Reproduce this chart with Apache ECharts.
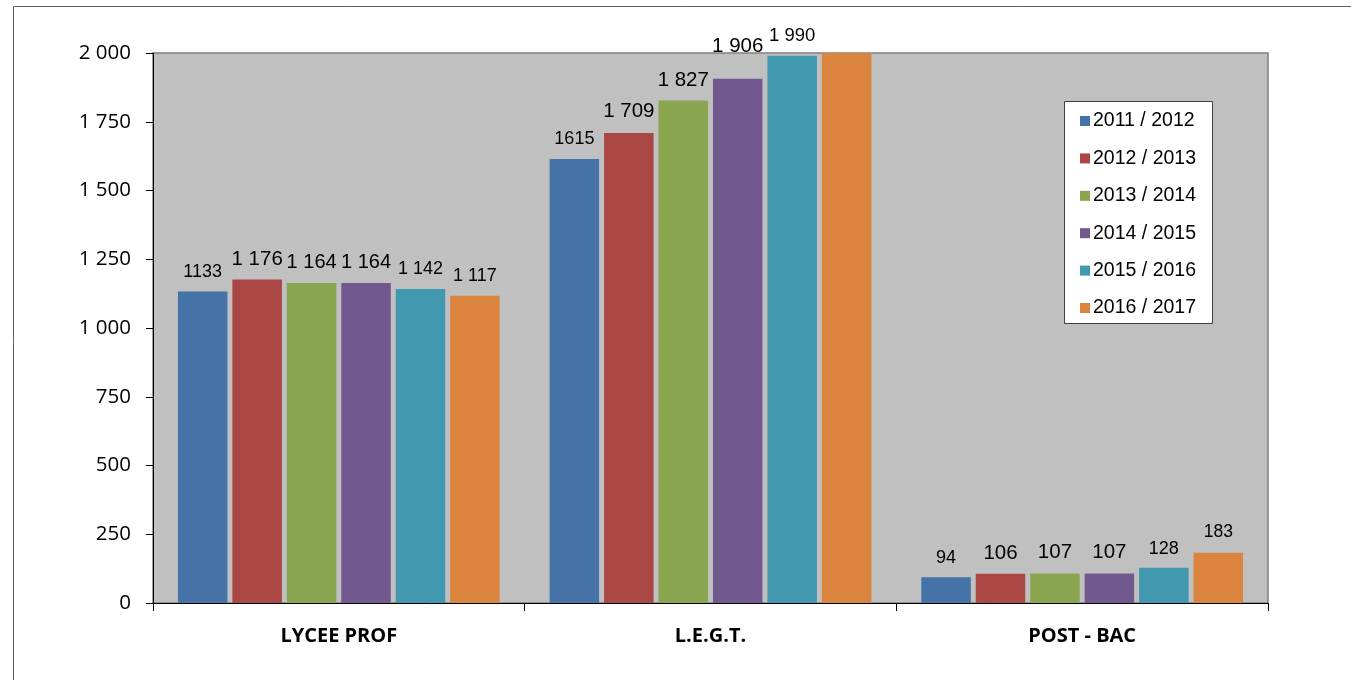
<!DOCTYPE html>
<html>
<head>
<meta charset="utf-8">
<script src="https://cdn.jsdelivr.net/npm/echarts@6/dist/echarts.min.js"></script>
<style>
html,body{margin:0;padding:0;background:#fff;}
#c{width:1351px;height:680px;}
</style>
</head>
<body>
<div id="c"></div>
<script>
// ---- data ----
var categories = ['LYCEE PROF', 'L.E.G.T.', 'POST - BAC'];
var seriesNames = ['2011 / 2012', '2012 / 2013', '2013 / 2014', '2014 / 2015', '2015 / 2016', '2016 / 2017'];
var v2011 = [1133, 1615, 94];
var v2012 = [1176, 1709, 106];
var v2013 = [1164, 1827, 107];
var v2014 = [1164, 1906, 107];
var v2015 = [1142, 1990, 128];
var v2016 = [1117, 2040, 183];
var t2011 = ['1133', '1615', '94'];
var t2012 = ['1 176', '1 709', '106'];
var t2013 = ['1 164', '1 827', '107'];
var t2014 = ['1 164', '1 906', '107'];
var t2015 = ['1 142', '1 990', '128'];
var t2016 = ['1 117', '', '183'];
var yTickLabels = ['0', '250', '500', '750', '1 000', '1 250', '1 500', '1 750', '2 000'];

// ---- styling ----
var colors = ['#4572A7', '#AA4643', '#89A54E', '#71588F', '#4198AF', '#DB843D'];
var labelSizes = [
  [18, 18, 18],
  [20.5, 20.5, 20.5],
  [20, 20.5, 20.5],
  [20, 20.5, 20.5],
  [18, 18.5, 18],
  [18, 18, 17.5]
];
var labelCenterGap = [
  [22, 22.7, 21.7],
  [22.5, 23.8, 23.5],
  [23.3, 22.9, 23.5],
  [23.3, 35.5, 23.5],
  [22.5, 22, 21.7],
  [22.3, 22, 22.7]
];

var values = [v2011, v2012, v2013, v2014, v2015, v2016];
var texts = [t2011, t2012, t2013, t2014, t2015, t2016];

var series = seriesNames.map(function (name, si) {
  return {
    name: name,
    type: 'bar',
    barWidth: 49.5,
    barGap: '10%',
    clip: true,
    itemStyle: { color: colors[si] },
    data: values[si].map(function (v, ci) {
      var fs = labelSizes[si][ci];
      var txt = texts[si][ci];
      return {
        value: v,
        label: {
          show: txt !== '',
          position: 'top',
          distance: labelCenterGap[si][ci] - fs / 2 - 2.5,
          fontSize: fs,
          lineHeight: fs,
          fontFamily: '"Liberation Sans", Arial, sans-serif',
          color: '#000',
          formatter: function () { return txt; }
        }
      };
    })
  };
});

var chart = echarts.init(document.getElementById('c'), null, { renderer: 'canvas' });
chart.setOption({
  animation: false,
  backgroundColor: '#fff',
  color: colors,
  graphic: [
    {
      type: 'rect',
      z: -10,
      shape: { x: 13.5, y: 6.5, width: 1400, height: 720 },
      style: { fill: 'none', stroke: '#5f5f5f', lineWidth: 1 }
    },
    {
      type: 'rect',
      z: 100,
      shape: { x: 1064.5, y: 101.5, width: 148, height: 222 },
      style: { fill: '#fff', stroke: '#404040', lineWidth: 1 }
    }
  ],
  grid: {
    left: 153, right: 83, top: 53, bottom: 77,
    show: true,
    backgroundColor: '#C0C0C0',
    borderColor: '#808080',
    borderWidth: 1.5
  },
  legend: {
    orient: 'vertical',
    left: 1080,
    top: 111,
    padding: 0,
    z: 110,
    itemWidth: 10,
    itemHeight: 10,
    itemGap: 17.4,
    icon: 'rect',
    data: seriesNames,
    textStyle: {
      fontSize: 19.5,
      lineHeight: 19.5,
      color: '#000',
      fontFamily: '"Liberation Sans", Arial, sans-serif',
      padding: [0, 0, 0, -2]
    }
  },
  xAxis: {
    type: 'category',
    data: categories,
    axisLine: { lineStyle: { color: '#000', width: 1 } },
    axisTick: { show: true, length: 8, lineStyle: { color: '#000' } },
    axisLabel: {
      margin: 23,
      fontSize: 20,
      fontWeight: 'bold',
      color: '#000',
      fontFamily: '"Open Sans", sans-serif'
    },
    splitLine: { show: false }
  },
  yAxis: {
    type: 'value',
    min: 0,
    max: 2000,
    interval: 250,
    axisLine: { show: true, lineStyle: { color: '#000', width: 1 } },
    axisTick: { show: true, length: 7, lineStyle: { color: '#000' } },
    axisLabel: {
      margin: 22,
      fontSize: 20.5,
      color: '#000',
      fontFamily: '"Open Sans", sans-serif',
      formatter: function (v) { return yTickLabels[Math.round(v / 250)]; }
    },
    splitLine: { show: false }
  },
  series: series
});
</script>
</body>
</html>
